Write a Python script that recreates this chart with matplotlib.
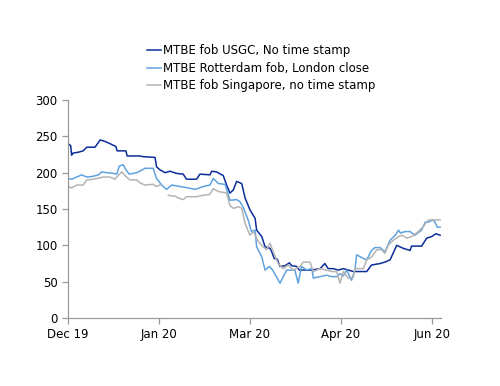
import numpy as np
import matplotlib
matplotlib.use("Agg")
import matplotlib.pyplot as plt

# Category-axis positions (30 points between labelled ticks)
tick_pos = [0, 30, 60, 90, 120]
tick_labels = ["Dec 19", "Jan 20", "Mar 20", "Apr 20", "Jun 20"]

usgc_x = [0, 0.9, 1.2, 1.7, 3.3, 5, 6.2, 8.9, 10.6, 12.2, 13.8, 15.8, 16.2, 19.1, 19.5,
          23.7, 24.8, 28.7, 29.2, 30.3, 32, 33.6, 35.8, 38, 38.6, 39.1, 42.4, 43.5, 46.8,
          47.4, 49, 51.2, 52.3, 53.4, 54.5, 55.6, 57.3, 58.4, 60, 61.7, 62.2, 63.9, 65,
          66.6, 67.2, 68, 69, 69.9, 71.6, 73, 73.8, 75.4, 76.3, 80.4, 83.1, 84.7, 85.8,
          87.5, 89.1, 90.8, 92.4, 94.1, 98.5, 100.1, 102.9, 104.5, 106.2, 108.4, 110.5,
          112.8, 113.3, 116.6, 118.3, 119.9, 121.3, 122.7]
usgc_y = [240, 237, 224, 227, 228, 230, 235, 235, 245, 243, 240, 236, 230, 230, 223,
          223, 222, 221, 208, 204, 200, 202, 199, 198, 194, 191, 191, 198, 197,
          202, 201, 196, 183, 172, 176, 188, 185, 165, 149, 137, 121, 112, 98,
          96, 91, 82, 81, 71, 72, 76, 72, 71, 66, 66, 68, 75, 68,
          68, 66, 68, 66, 64, 64, 73, 75, 77, 80, 100, 96,
          93, 99, 99, 110, 112, 116, 114]

rott_x = [0, 1.2, 2.9, 4.5, 6.2, 8.3, 10, 11.1, 12.8, 14.9, 16.1, 16.9, 18.2, 19.1, 20.2,
          22.7, 25.4, 28.1, 29.2, 30.9, 32.5, 34.2, 36.9, 39.7, 41.9, 44.6, 46.8, 47.9,
          49.6, 51.8, 53.4, 55.6, 56.7, 57.7, 59.4, 60.5, 61.7, 62.2, 63.9, 65, 66.4,
          67.5, 69.9, 71, 72.1, 74.8, 75.9, 77, 78.7, 80.4, 80.9, 83.1, 85.3, 86.9, 88.6,
          89.7, 90.8, 91.9, 93.5, 94.6, 95.2, 97.4, 98.5, 100.1, 101.2, 102.9, 104.5,
          106.2, 107.9, 109, 109.6, 111.2, 112.8, 114.4, 116.6, 117.8, 118.9, 120.3, 121,
          121.8, 122.7]
rott_y = [192, 191, 194, 197, 194, 195, 197, 201, 200, 199, 198, 209, 211, 204, 198,
          200, 206, 206, 192, 183, 177, 183, 181, 179, 177, 181, 183, 192,
          185, 184, 162, 163, 160, 153, 135, 119, 121, 98, 84, 66, 71,
          66, 48, 57, 66, 66, 48, 71, 66, 68, 55, 57, 59, 57, 57,
          61, 58, 66, 52, 66, 87, 82, 80, 93, 97, 97, 91,
          107, 114, 121, 117, 119, 119, 114, 121, 132, 132, 135, 132,
          125, 125]

sing_x = [0, 1.2, 2.9, 5, 6.2, 8.3, 11.6, 13.8, 15.5, 16.3, 17.7, 19.1, 20.4, 22.7, 23.7,
          25.4, 28.1, 29, 30.3, 31.7, 33.1, 34.2, 35.3, 36.4, 38, 39.1, 42.4, 44.6, 46.8,
          47.9, 49.6, 52.3, 53.4, 54.5, 56.2, 57.3, 58.4, 60, 61.1, 62.8, 64.4, 65.5,
          66.6, 67.7, 69.3, 71, 72.6, 74.3, 76.5, 77.6, 79.8, 80.9, 83.1, 85.3, 86.9,
          88.6, 89.7, 90.8, 92.4, 94.1, 94.6, 97.4, 98.5, 100.1, 101.8, 103.4, 104.5,
          105.6, 107.2, 109, 110.1, 111.7, 113.3, 115.5, 117.2, 118.3, 118.9, 122.7]
sing_y = [181, 179, 183, 183, 190, 191, 194, 194, 191, 195, 201, 195, 190, 190, 186,
          183, 184, 181, 183, np.nan, 169, 168, 168, 165, 163, 167, 167, 169, 170,
          178, 174, 172, 155, 151, 153, 151, 130, 114, 119, 105, 98, 94,
          103, 91, 75, 68, 73, 66, 71, 77, 77, 64, 68, 66, 64,
          64, 48, 64, 55, 56, 68, 68, 80, 84, 94, 94, 89,
          100, 107, 112, 114, 110, 112, 119, 126, 132, 135, 135]

series_names = ["MTBE fob USGC, No time stamp",
                "MTBE Rotterdam fob, London close",
                "MTBE fob Singapore, no time stamp"]
colors = ["#0B2D9A", "#5FA2DD", "#B4B4B4"]

fig = plt.figure(figsize=(5.0, 3.86), dpi=100)
ax = fig.add_axes([0.136, 0.176, 0.746, 0.565])

ax.plot(usgc_x, usgc_y, color=colors[0], lw=1.1, label=series_names[0])
ax.plot(rott_x, rott_y, color=colors[1], lw=1.1, label=series_names[1])
ax.plot(sing_x, sing_y, color=colors[2], lw=1.1, label=series_names[2])

ax.set_xlim(0, 123)
ax.set_ylim(0, 300)
ax.set_yticks([0, 50, 100, 150, 200, 250, 300])
ax.set_xticks(tick_pos)
ax.set_xticklabels(tick_labels)

for s in ["top", "right"]:
    ax.spines[s].set_visible(False)
for s in ["left", "bottom"]:
    ax.spines[s].set_color("#999999")
    ax.spines[s].set_linewidth(0.9)
ax.tick_params(axis="both", colors="#999999", labelcolor="black", labelsize=8.5,
               length=4, width=0.9, direction="out")
ax.tick_params(axis="x", pad=3)

leg = fig.legend(loc="upper left", bbox_to_anchor=(0.294, 0.885), frameon=False,
                 fontsize=8.5, handlelength=1.2, handletextpad=0.15, labelspacing=0.38,
                 borderaxespad=0, borderpad=0)

fig.savefig("out.png", dpi=100)
